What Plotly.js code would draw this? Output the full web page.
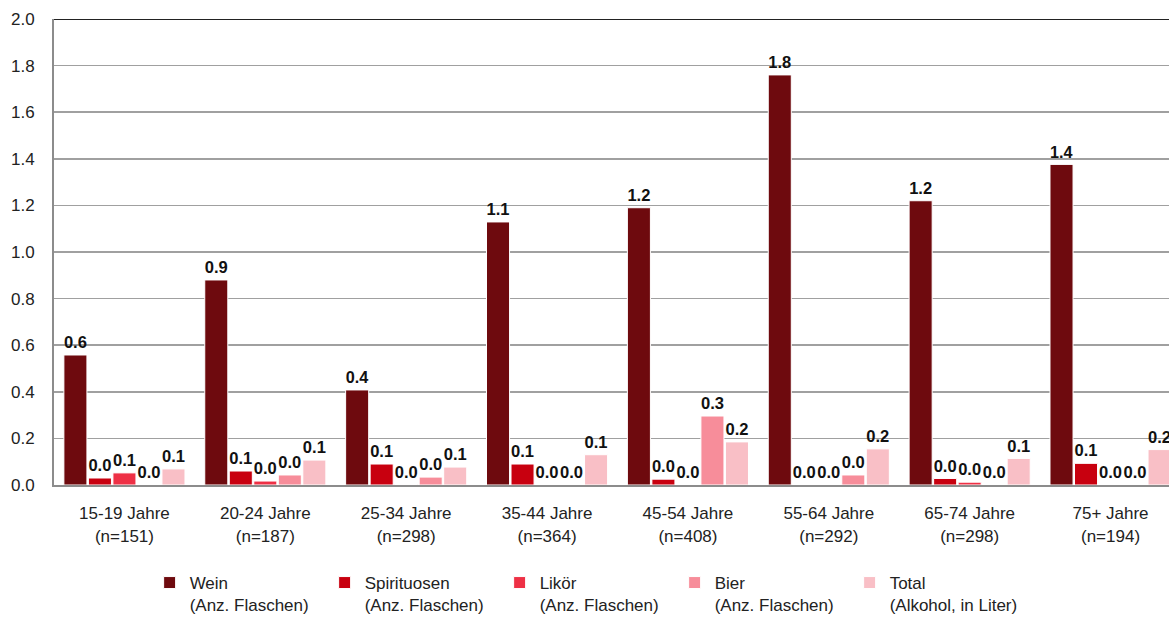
<!DOCTYPE html>
<html><head><meta charset="utf-8">
<script src="https://cdn.plot.ly/plotly-3.0.1.min.js"></script>
<style>body{margin:0;background:#fff}#chart{width:1169px;height:620px}</style>
</head><body><div id="chart"></div>
<script>
const categories = ["15-19 Jahre<br>(n=151)","20-24 Jahre<br>(n=187)","25-34 Jahre<br>(n=298)","35-44 Jahre<br>(n=364)","45-54 Jahre<br>(n=408)","55-64 Jahre<br>(n=292)","65-74 Jahre<br>(n=298)","75+ Jahre<br>(n=194)"];
const seriesNames = ["Wein<br>(Anz. Flaschen)","Spirituosen<br>(Anz. Flaschen)","Likör<br>(Anz. Flaschen)","Bier<br>(Anz. Flaschen)","Total<br>(Alkohol, in Liter)"];
const wein        = [0.558, 0.88, 0.408, 1.129, 1.19, 1.76, 1.22, 1.376];
const spirituosen = [0.03, 0.06, 0.09, 0.09, 0.025, 0.0, 0.028, 0.093];
const likoer      = [0.052, 0.017, 0.002, 0.0, 0.0, 0.0, 0.012, 0.0];
const bier        = [0.0, 0.043, 0.034, 0.0, 0.296, 0.043, 0.0, 0.0];
const total       = [0.069, 0.107, 0.077, 0.13, 0.185, 0.155, 0.114, 0.152];
const colors = ["#6E0A0E","#C8000F","#EE3045","#F78D9A","#F9BFC6"];
const values = [wein, spirituosen, likoer, bier, total];
const FONT = "'Liberation Sans',Arial,sans-serif";

const traces = values.map((v,i)=>({
  type:'bar', x:categories, y:v, name:seriesNames[i],
  marker:{color:colors[i], line:{color:'#ffffff', width:1}},
  texttemplate:'<b>%{y:.1f}</b>', textposition:'outside', cliponaxis:false,
  textfont:{family:FONT, size:17, color:'#111'},
  hoverinfo:'skip'
}));

const layout = {
  width:1169, height:620,
  margin:{l:54, r:0, t:19, b:135},
  paper_bgcolor:'#fff', plot_bgcolor:'#fff',
  barmode:'group', bargap:0.13, bargroupgap:0.06,
  font:{family:FONT, size:17, color:'#222'},
  xaxis:{type:'category', range:[-0.5, 7.415], showgrid:false, showline:true, linecolor:'#8c8c8c', linewidth:2, ticks:'', tickfont:{size:17}, automargin:false, ticklabelstandoff:12},
  yaxis:{range:[0,2], dtick:0.2, tickformat:'.1f', showgrid:true, gridcolor:'#a0a0a0', gridwidth:1.5, showline:true, linecolor:'#8c8c8c', linewidth:2, ticks:'', zeroline:false, ticklabelstandoff:14, tickfont:{size:17}, automargin:false},
  shapes:[{type:'line', xref:'paper', yref:'y', x0:0, x1:1, y0:2, y1:2, line:{color:'#222', width:2}}],
  showlegend:true,
  legend:{orientation:'h', xref:'container', yref:'container', x:0.128, xanchor:'left', y:1-565/620, yanchor:'top', entrywidth:130, valign:'top', font:{size:17, color:'#222'}, traceorder:'normal'}
};
Plotly.newPlot('chart', traces, layout, {staticPlot:true});
</script></body></html>
